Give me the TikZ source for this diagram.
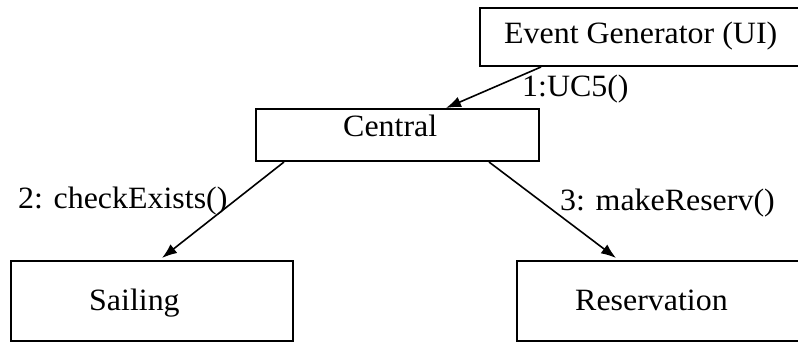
\documentclass[tikz,border=0pt]{standalone}
\usepackage{fontspec}
\setmainfont{Liberation Serif}[FakeStretch=1.03]
\usetikzlibrary{arrows.meta,calc}
\begin{document}
\begin{tikzpicture}[x=1pt,y=1pt,
  objbox/.style={draw=black,line width=2pt,rectangle,inner sep=0pt},
  txt/.style={anchor=base west,inner sep=0pt,font=\fontsize{31}{37}\selectfont},
  msg/.style={draw=black,line width=1.6pt,-{Latex[length=15pt,width=11pt]}}]
\useasboundingbox (0,0) rectangle (798,343);

% object boxes
\node[objbox,minimum width=325pt,minimum height=58pt] (eg) at (642.5,306) {};
\node[objbox,minimum width=283pt,minimum height=52pt] (central) at (397.5,208) {};
\node[objbox,minimum width=282pt,minimum height=80pt] (sailing) at (152,42) {};
\node[objbox,minimum width=288pt,minimum height=80pt] (reserv) at (661,42) {};

% box titles
\node[txt] (egtext) at (504,299) {Event Generator (UI)};
\node[txt] (centraltext) at (343,206) {Central};
\node[txt] (sailingtext) at (89,33) {Sailing};
\node[txt] (reservtext) at (575,33) {Reservation};

% messages
\draw[msg] ($(eg.south west)+(62,0)$) -- ($(central.north west)+(191,0)$);
\draw[msg] ($(central.south west)+(29,0)$) -- ($(sailing.north west)+(152,2)$);
\draw[msg] ($(central.south west)+(234,0)$) -- ($(reserv.north west)+(100,2)$);

% message labels
\node[txt] (m1) at (522,246) {1:UC5()};
\node[txt] (m2) at (18,134) {2: checkExists()};
\node[txt] (m3) at (560,132) {3: makeReserv()};
\end{tikzpicture}
\end{document}
